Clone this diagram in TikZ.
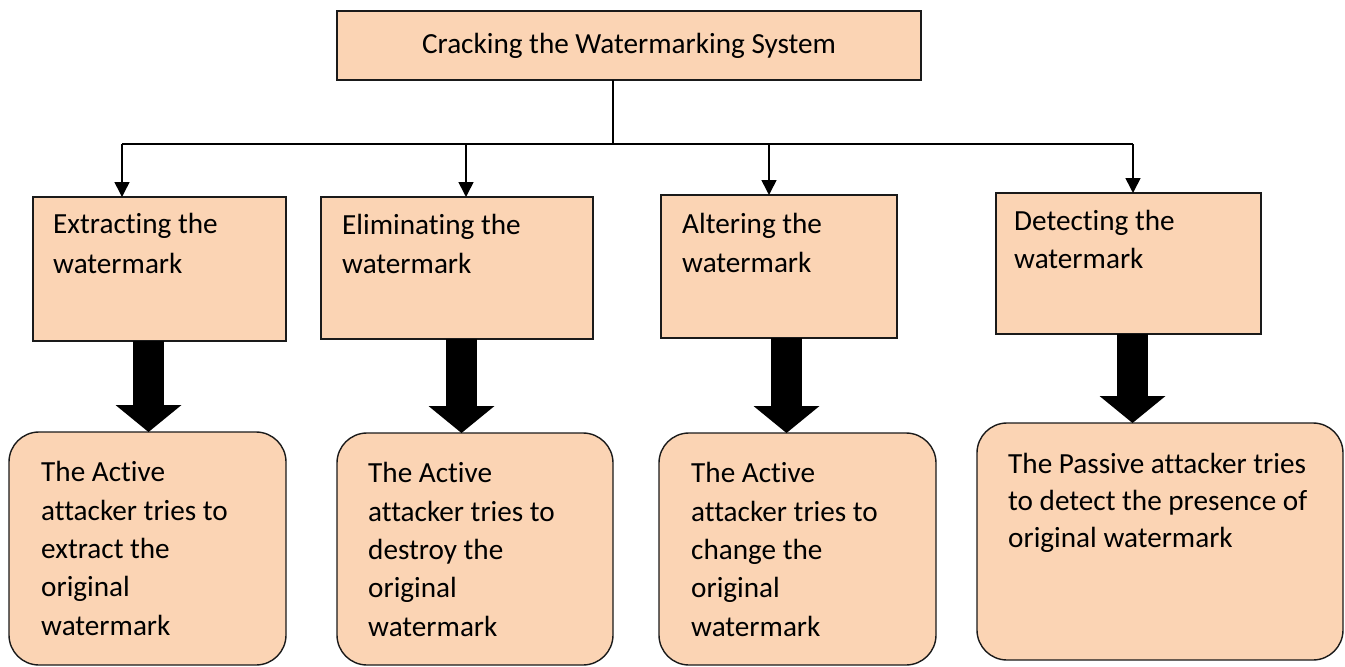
\documentclass[tikz,border=0pt]{standalone}
\usepackage{fontspec}
\setmainfont{Carlito}[Ligatures=CommonOff]
\usetikzlibrary{arrows.meta,calc}
\definecolor{peach}{HTML}{FBD4B4}
\definecolor{edge}{HTML}{1A1A1A}
\tikzset{
  box/.style={draw=edge, line width=1.4pt, fill=peach, anchor=north west,
    inner sep=0pt, outer sep=0pt},
  softbox/.style={box, rounded corners=30pt},
  bodyfont/.style={font=\fontsize{29.2}{38.3}\selectfont},
  % anchored at the baseline of the last line
  txt/.style={bodyfont, anchor=base west, align=left, inner sep=0pt},
  conn/.style={draw=black, line width=1.6pt},
  thinarrow/.style={conn, -{Triangle[width=15pt,length=15pt]}},
  blockarrow/.style={draw=black, line width=31pt,
    -{Triangle[width=66pt,length=27pt,line width=0pt]}},
}
\begin{document}
\begin{tikzpicture}[x=1pt,y=-1pt]
\useasboundingbox (0,0) rectangle (1345,667);

% top box
\node[box, bodyfont, minimum width=584pt, minimum height=69pt] (title) at (337,11)
  {Cracking the Watermarking System};

% second row: attack types
\node[box, minimum width=253pt, minimum height=144pt] (r1) at (33,197) {};
\node[box, minimum width=272pt, minimum height=142pt] (r2) at (321,197) {};
\node[box, minimum width=236pt, minimum height=143pt] (r3) at (661,195) {};
\node[box, minimum width=265pt, minimum height=141pt] (r4) at (996,193) {};
\node[txt, font=\fontsize{29.2}{39.5}\selectfont] (r1t) at (53,273) {Extracting the\\watermark};
\node[txt, font=\fontsize{29.2}{38.5}\selectfont] (r2t) at (342,273) {Eliminating the\\watermark};
\node[txt, font=\fontsize{29.2}{39}\selectfont] (r3t) at (682,272) {Altering the\\watermark};
\node[txt, font=\fontsize{29.2}{37.5}\selectfont] (r4t) at (1014,268) {Detecting the\\watermark};

% third row: attacker descriptions
\node[softbox, minimum width=277pt, minimum height=233pt] (c1) at (9,432) {};
\node[softbox, minimum width=276pt, minimum height=232pt] (c2) at (337,433) {};
\node[softbox, minimum width=277pt, minimum height=232pt] (c3) at (659,433) {};
\node[softbox, minimum width=366pt, minimum height=237pt] (c4) at (977,423) {};
\node[txt] (c1t) at (41,635) {The Active\\attacker tries to\\extract the\\original\\watermark};
\node[txt] (c2t) at (368,636) {The Active\\attacker tries to\\destroy the\\original\\watermark};
\node[txt] (c3t) at (691,636) {The Active\\attacker tries to\\change the\\original\\watermark};
\node[txt, font=\fontsize{29.2}{37}\selectfont] (c4t) at (1008,547)
  {The Passive attacker tries\\to detect the presence of\\original watermark};

% distribution bus
\coordinate (bus) at (613,144);
\coordinate (busL) at (122,144);
\coordinate (busR) at (1133,144);
\coordinate (d2) at (466,144);
\coordinate (d3) at (769,144);
\draw[conn] (title.south -| bus) -- (bus);
\draw[conn] (busL) -- (busR);
\draw[thinarrow] (busL) -- (r1.north -| busL);
\draw[thinarrow] (d2) -- (r2.north -| d2);
\draw[thinarrow] (d3) -- (r3.north -| d3);
\draw[thinarrow] (busR) -- (r4.north -| busR);

% block arrows
\coordinate (a1) at (148.5,0);
\coordinate (a2) at (461.5,0);
\coordinate (a3) at (786.5,0);
\coordinate (a4) at (1132.5,0);
\draw[blockarrow] (a1 |- r1.south) -- (a1 |- c1.north);
\draw[blockarrow] (a2 |- r2.south) -- (a2 |- c2.north);
\draw[blockarrow] (a3 |- r3.south) -- (a3 |- c3.north);
\draw[blockarrow] (a4 |- r4.south) -- (a4 |- c4.north);
\end{tikzpicture}
\end{document}
